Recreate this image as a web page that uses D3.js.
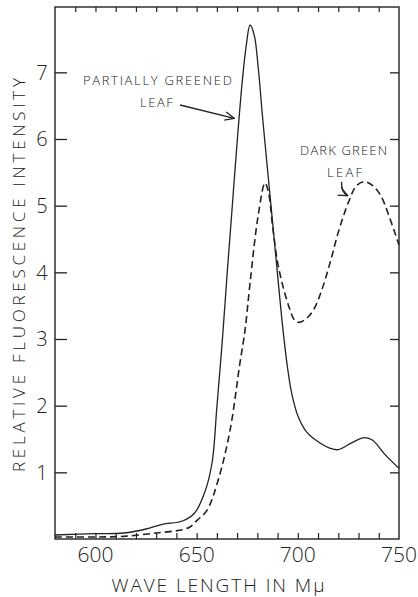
<!DOCTYPE html>
<html>
<head>
<meta charset="utf-8">
<script src="https://cdn.jsdelivr.net/npm/d3@7/dist/d3.min.js"></script>
<style>
html,body{margin:0;padding:0;background:#fff;}
svg text{font-family:"Open Sans","DejaVu Sans",sans-serif;font-weight:300;fill:#222;}
</style>
</head>
<body>
<svg id="chart" width="418" height="597"></svg>
<script>
// ---- data ----
const partialWave = [580,600,614,625,633,643,649,654,657.6,660,662.5,665,667.5,670,672.5,674.5,676.4,678.5,680.5,682.5,685,688,690.5,692.7,695,697,700,704.5,711,716,720,727,733,737,743,750];
const partialVal  = [0.06,0.08,0.09,0.15,0.22,0.27,0.39,0.7,1.14,1.98,2.9,3.95,4.95,5.95,6.85,7.4,7.71,7.55,7.05,6.35,5.55,4.6,3.8,3.13,2.55,2.18,1.85,1.6,1.44,1.36,1.34,1.45,1.52,1.48,1.27,1.06];
const darkWave = [580,600,614,630,643,646.7,650.2,655.1,660.6,666.5,671.4,673.9,676.4,680.3,683.8,685.5,687.5,690,693,696,698,700,704,708,712,716,720,725,729,733,737,741,745,750];
const darkVal  = [0.03,0.03,0.04,0.09,0.14,0.18,0.28,0.43,0.88,1.63,2.64,3.13,3.84,4.83,5.34,5.2,4.7,4.15,3.75,3.45,3.3,3.25,3.3,3.45,3.75,4.15,4.6,5.05,5.3,5.36,5.3,5.15,4.85,4.41];
const xTickLabels = [600,650,700,750];
const yTickLabels = [1,2,3,4,5,6,7];
const xMinorTicks = [590,600,610,620,630,640,650,660,670,680,690,700,710,720,730,740];
const xTitle = "WAVE LENGTH IN M\u03BC";
const yTitle = "RELATIVE FLUORESCENCE INTENSITY";
const annotations = [
  {lines:["PARTIALLY GREENED","LEAF"]},
  {lines:["DARK GREEN","LEAF"]}
];

// ---- layout ----
const svg = d3.select("#chart");
const L = 55, R = 399, T = 7, B = 539;
const x = d3.scaleLinear().domain([580,750]).range([L,R]);
const y = d3.scaleLinear().domain([0,7.98]).range([B,T]);

// frame
svg.append("rect").attr("x",L).attr("y",T).attr("width",R-L).attr("height",B-T)
  .attr("fill","none").attr("stroke","#222").attr("stroke-width",1.4);

// y ticks (left, inward) and right (inward)
svg.append("g").attr("transform",`translate(${L},0)`)
  .call(d3.axisRight(y).tickValues(yTickLabels).tickSize(12).tickFormat(""))
  .call(g=>{g.select(".domain").remove(); g.selectAll("line").attr("stroke","#222").attr("stroke-width",1.3);});
svg.append("g").attr("transform",`translate(${R},0)`)
  .call(d3.axisLeft(y).tickValues(yTickLabels).tickSize(9).tickFormat(""))
  .call(g=>{g.select(".domain").remove(); g.selectAll("line").attr("stroke","#222").attr("stroke-width",1.3);});
// y labels
svg.append("g").selectAll("text").data(yTickLabels).join("text")
  .attr("x",42).attr("y",d=>y(d)).attr("dy","0.36em").attr("text-anchor","middle")
  .attr("font-size",20).text(d=>d);

// x ticks bottom (inward) and top (inward)
svg.append("g").attr("transform",`translate(0,${B})`)
  .call(d3.axisTop(x).tickValues(xMinorTicks).tickSize(6).tickFormat(""))
  .call(g=>{g.select(".domain").remove(); g.selectAll("line").attr("stroke","#222").attr("stroke-width",1.2);});
svg.append("g").attr("transform",`translate(0,${T})`)
  .call(d3.axisBottom(x).tickValues(xMinorTicks).tickSize(5).tickFormat(""))
  .call(g=>{g.select(".domain").remove(); g.selectAll("line").attr("stroke","#222").attr("stroke-width",1.2);});
// x labels
svg.append("g").selectAll("text").data(xTickLabels).join("text")
  .attr("x",d=>x(d)).attr("y",562).attr("text-anchor","middle")
  .attr("font-size",20).attr("textLength",36).attr("lengthAdjust","spacingAndGlyphs").text(d=>d);

// titles
svg.append("text").attr("x",218).attr("y",592).attr("text-anchor","middle")
  .attr("font-size",19).attr("textLength",213).attr("lengthAdjust","spacing").text(xTitle);
svg.append("text").attr("transform","translate(25,275) rotate(-90)").attr("text-anchor","middle")
  .attr("font-size",17).attr("textLength",394).attr("lengthAdjust","spacing").text(yTitle);

// curves
const line = d3.line().x(d=>x(d[0])).y(d=>y(d[1])).curve(d3.curveCatmullRom.alpha(0.5));
svg.append("path").datum(d3.zip(partialWave,partialVal)).attr("d",line)
  .attr("fill","none").attr("stroke","#222").attr("stroke-width",1.3);
svg.append("path").datum(d3.zip(darkWave,darkVal)).attr("d",line)
  .attr("fill","none").attr("stroke","#222").attr("stroke-width",1.6).attr("stroke-dasharray","7,4");

// annotations
function label(txt, wx, wy, len){
  svg.append("text").attr("x",x(wx)).attr("y",y(wy)).attr("dy","0.36em").attr("text-anchor","middle")
    .attr("font-size",13).attr("textLength",len).attr("lengthAdjust","spacing").text(txt);
}
label(annotations[0].lines[0],630.6,6.88,149);
label(annotations[0].lines[1],630.1,6.55,33);
label(annotations[1].lines[0],722.6,5.83,87);
label(annotations[1].lines[1],723.1,5.50,35);

svg.append("defs").append("marker").attr("id","ah").attr("viewBox","0 0 10 10")
  .attr("refX",9).attr("refY",5).attr("markerWidth",8).attr("markerHeight",8).attr("orient","auto")
  .append("path").attr("d","M0,1 L9,5 L0,9").attr("fill","none").attr("stroke","#222").attr("stroke-width",1.3);

svg.append("path")
  .attr("d",`M${x(641.8)},${y(6.51)} L${x(668.6)},${y(6.31)}`)
  .attr("fill","none").attr("stroke","#222").attr("stroke-width",1.3).attr("marker-end","url(#ah)");
svg.append("path")
  .attr("d",`M${x(721.6)},${y(5.36)} Q${x(721.4)},${y(5.2)} ${x(724.6)},${y(5.15)}`)
  .attr("fill","none").attr("stroke","#222").attr("stroke-width",1.3).attr("marker-end","url(#ah)");
</script>
</body>
</html>
